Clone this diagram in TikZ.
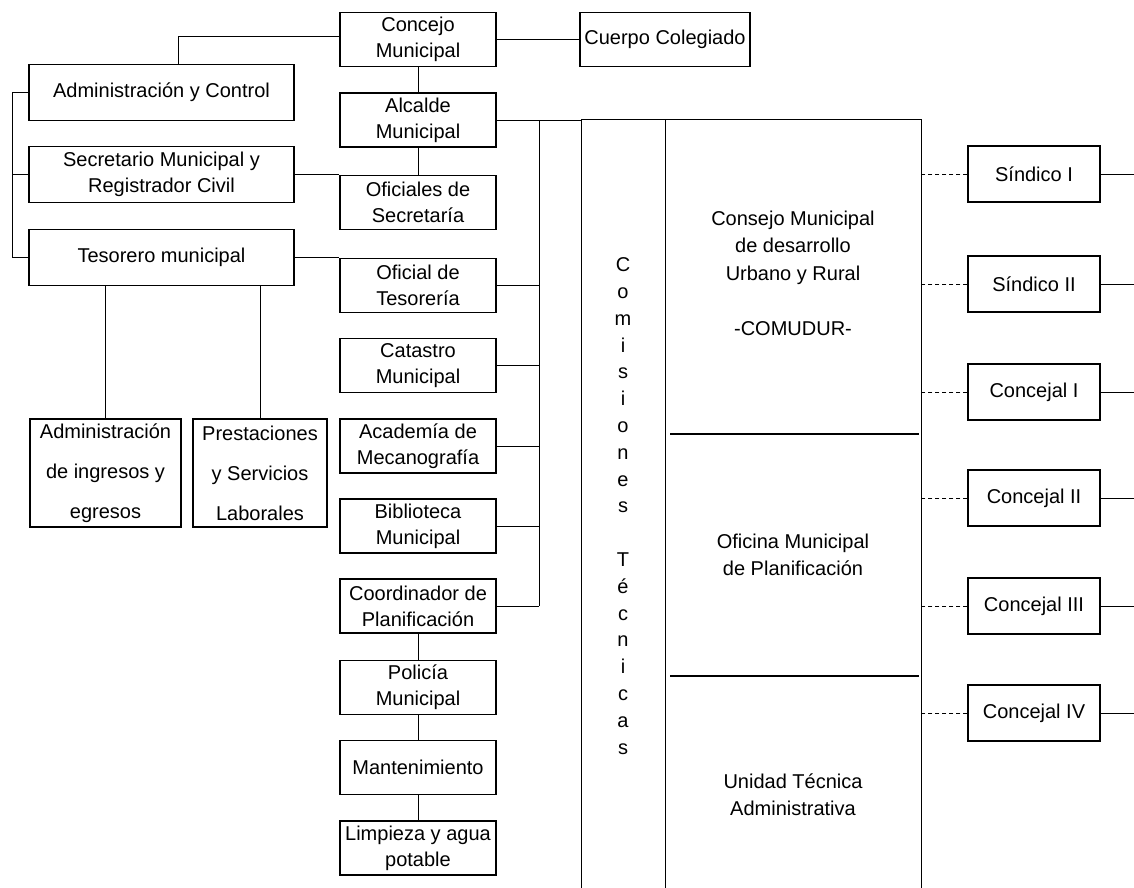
\documentclass[tikz,border=0pt]{standalone}
\usepackage{fontspec}
\setmainfont{Liberation Sans}

\begin{document}
\begin{tikzpicture}[x=1pt, y=-1pt,
unit/.style={rectangle, draw, line width=1.2pt, minimum width=156pt, minimum height=54pt, inner sep=0pt, align=center, font=\fontsize{20}{26}\selectfont},
wide/.style={unit, minimum width=265pt, minimum height=56pt},
low/.style={unit, minimum height=108pt, font=\fontsize{20}{40}\selectfont},
edil/.style={unit, minimum width=132pt, minimum height=56pt},
panel/.style={rectangle, draw, line width=1.2pt, anchor=north west, minimum height=800pt, inner sep=0pt},
txt/.style={align=center, inner sep=0pt, font=\fontsize{20}{27}\selectfont},
link/.style={line width=0.9pt},
dots/.style={line width=0.9pt, dash pattern=on 4pt off 3pt},
]

\useasboundingbox (0,0) rectangle (1134,887);
\clip (0,0) rectangle (1134,887);

% central column
\node (conc) [unit] at (418,39.5) {Concejo\\Municipal};
\node (cuer) [unit, minimum width=170pt] at (665,39.5) {Cuerpo Colegiado};
\node (alc) [unit] at (418,120) {Alcalde\\Municipal};
\node (ofs) [unit] at (418,202.5) {Oficiales de\\Secretaría};
\node (otes) [unit] at (418,285.5) {Oficial de\\Tesorería};
\node (cat) [unit] at (418,365.5) {Catastro\\Municipal};
\node (aca) [unit] at (418,446) {Academía de\\Mecanografía};
\node (bib) [unit] at (418,526) {Biblioteca\\Municipal};
\node (coor) [unit] at (418,606) {Coordinador de\\Planificación};
\node (pol) [unit] at (418,687.5) {Policía\\Municipal};
\node (man) [unit] at (418,767.5) {Mantenimiento};
\node (lim) [unit] at (418,848) {Limpieza y agua\\potable};

% left column
\node (adm) [wide] at (161.5,92.5) {Administración y Control};
\node (sec) [wide] at (161.5,174.5) {Secretario Municipal y\\Registrador Civil};
\node (tes) [wide] at (161.5,257.5) {Tesorero municipal};
\node (ing) [low, minimum width=151pt] at (105.5,473) {Administración\\de ingresos y\\egresos};
\node (pre) [low, minimum width=134pt] at (260,473) {Prestaciones\\y Servicios\\Laborales};

% commissions and councils
\node (comis) [panel, minimum width=84pt] at (581,119) {};
\node (cmdur) [panel, minimum width=256pt] at (665,119) {};
\node (ct) [txt, font=\fontsize{20}{26.8}\selectfont] at (623,506) {C\\o\\m\\i\\s\\i\\o\\n\\e\\s\\[26.8pt]T\\é\\c\\n\\i\\c\\a\\s};
\node (a) [txt, font=\fontsize{20}{27.5}\selectfont] at (793,273) {Consejo Municipal\\de desarrollo\\Urbano y Rural\\[27.5pt]-COMUDUR-};
\node (b) [txt] at (793,555) {Oficina Municipal\\de Planificación};
\node (c) [txt] at (793,795) {Unidad Técnica\\Administrativa};
\draw [line width=1.2pt] (670,434) -- (919,434);
\draw [line width=1.2pt] (670,676) -- (919,676);

% right column
\node (s1) [edil] at (1034,174) {Síndico I};
\node (s2) [edil] at (1034,284) {Síndico II};
\node (c1) [edil] at (1034,392) {Concejal I};
\node (c2) [edil] at (1034,498) {Concejal II};
\node (c3) [edil] at (1034,606) {Concejal III};
\node (c4) [edil] at (1034,713) {Concejal IV};

\coordinate (drop) at (178,0);
\coordinate (lbus) at (12,0);
\coordinate (bus) at (539,0);
\coordinate (edge) at (1134,0);

\draw [link] (conc.east) -- (cuer.west);
\draw [link] (conc.south) -- (alc.north);
\draw [link] (alc.south) -- (ofs.north);
\draw [link] ([yshift=3.5pt]conc.west) -| (drop |- adm.north);
\draw [link] (adm.west) -- (adm.west -| lbus) |- (tes.west);
\draw [link] (sec.west) -- (sec.west -| lbus);
\draw [link] (sec.east) -- (sec.east -| ofs.west);
\draw [link] (tes.east) -- (tes.east -| otes.west);
\draw [link] (ing.north) -- (ing.north |- tes.south);
\draw [link] (pre.north) -- (pre.north |- tes.south);
\draw [link] (alc.east) -- (alc.east -| comis.west);
\draw [link] (alc.east -| bus) -- (coor.east -| bus);
\foreach \n in {otes, cat, aca, bib, coor}
  \draw [link] (\n.east) -- (\n.east -| bus);
\draw [link] (coor.south) -- (pol.north);
\draw [link] (pol.south) -- (man.north);
\draw [link] (man.south) -- (lim.north);
\foreach \n in {s1, s2, c1, c2, c3, c4} {
  \draw [dots] (\n.west) -- (\n.west -| cmdur.east);
  \draw [link] (\n.east) -- (\n.east -| edge);
}

\end{tikzpicture}
\end{document}
